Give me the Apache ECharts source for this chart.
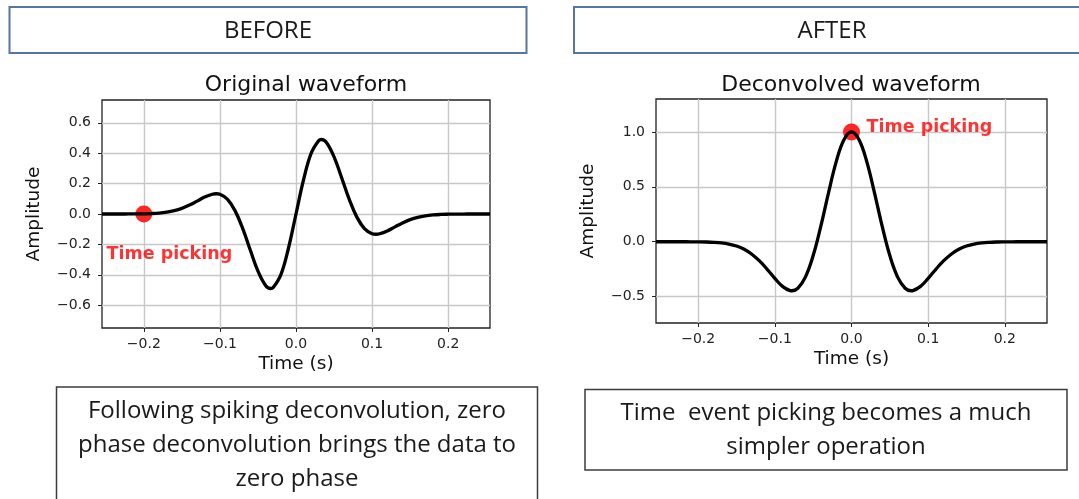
<!DOCTYPE html>
<html>
<head>
<meta charset="utf-8">
<script src="https://cdn.jsdelivr.net/npm/echarts@6/dist/echarts.min.js"></script>
<style>
html,body{margin:0;padding:0;background:#ffffff;}
#chart{width:1079px;height:499px;}
</style>
</head>
<body>
<div id="chart"></div>
<script>
// ---------- texts ----------
const headerLabels = ['BEFORE', 'AFTER'];
const panelTitles = ['Original waveform', 'Deconvolved waveform'];
const captionBefore = ['Following spiking deconvolution, zero', 'phase deconvolution brings the data to', 'zero phase'];
const captionAfter = ['Time  event picking becomes a much', 'simpler operation'];
const xAxisName = 'Time (s)';
const yAxisName = 'Amplitude';
const pickLabel = 'Time picking';

// ---------- tick values ----------
const xTicks = [-0.2, -0.1, 0, 0.1, 0.2];
const yTicksBefore = [-0.6, -0.4, -0.2, 0, 0.2, 0.4, 0.6];
const yTicksAfter = [-0.5, 0, 0.5, 1.0];

// ---------- waveform before (original) ----------
const timesBefore = [-0.255,-0.25,-0.24,-0.23,-0.22,-0.21,-0.2,-0.19,-0.18,-0.17,-0.16,-0.15,-0.14,-0.13,-0.12,-0.11,-0.105,-0.1,-0.09,-0.08,-0.07,-0.06,-0.05,-0.04,-0.0334,-0.03,-0.02,-0.01,0,0.01,0.02,0.03,0.0334,0.04,0.05,0.06,0.07,0.08,0.09,0.1,0.105,0.11,0.12,0.13,0.14,0.15,0.16,0.17,0.18,0.19,0.2,0.21,0.22,0.23,0.24,0.25,0.255];
const amplitudeBefore = [0,0,0,0,0.0002,0.0006,0.0014,0.003,0.0062,0.0121,0.022,0.0372,0.0585,0.0846,0.1113,0.1302,0.1331,0.1294,0.0959,0.0206,-0.0959,-0.2382,-0.3759,-0.4699,-0.49,-0.4843,-0.4005,-0.227,0,0.227,0.4005,0.4843,0.49,0.4699,0.3759,0.2382,0.0959,-0.0206,-0.0959,-0.1294,-0.1331,-0.1302,-0.1113,-0.0846,-0.0585,-0.0372,-0.022,-0.0121,-0.0062,-0.003,-0.0014,-0.0006,-0.0002,0,0,0,0];

// ---------- waveform after (deconvolved) ----------
const timesAfter = [-0.255,-0.25,-0.24,-0.23,-0.22,-0.21,-0.2,-0.19,-0.18,-0.17,-0.16,-0.15,-0.14,-0.13,-0.12,-0.11,-0.1,-0.09,-0.08,-0.078,-0.07,-0.06,-0.05,-0.04,-0.03,-0.02,-0.01,0,0.01,0.02,0.03,0.04,0.05,0.06,0.07,0.078,0.08,0.09,0.1,0.11,0.12,0.13,0.14,0.15,0.16,0.17,0.18,0.19,0.2,0.21,0.22,0.23,0.24,0.25,0.255];
const amplitudeAfter = [0,0,0,0,0,-0.0004,-0.001,-0.0023,-0.0051,-0.0106,-0.021,-0.0392,-0.0688,-0.1134,-0.1748,-0.251,-0.3337,-0.4061,-0.4448,-0.4463,-0.4233,-0.3195,-0.1261,0.1418,0.4451,0.7272,0.9275,1,0.9275,0.7272,0.4451,0.1418,-0.1261,-0.3195,-0.4233,-0.4463,-0.4448,-0.4061,-0.3337,-0.251,-0.1748,-0.1134,-0.0688,-0.0392,-0.021,-0.0106,-0.0051,-0.0023,-0.001,-0.0004,0,0,0,0,0];

// ---------- picks & annotation anchors ----------
const pickBefore = [-0.2, 0];
const pickAfter = [0, 1.0];
const labelAnchorBefore = [-0.249, -0.264];
const labelAnchorAfter = [0.0196, 1.042];

// ---------- build ----------
const zip = (xs, ys) => xs.map((x, i) => [x, ys[i]]);
const fmt = v => (v < 0 ? '\u2212' : '') + Math.abs(v).toFixed(1);
const mpl = 'DejaVu Sans';
const ui = '"Open Sans", "Noto Sans", sans-serif';

function xAxisCfg(gridIndex) {
  return {
    type: 'value', gridIndex, min: -0.255, max: 0.255,
    name: xAxisName, nameLocation: 'middle', nameGap: 27,
    nameTextStyle: { fontFamily: mpl, fontSize: 18.5, color: '#111' },
    axisLine: { show: false, onZero: false },
    axisTick: { show: true, inside: false, length: 4, customValues: xTicks, lineStyle: { color: '#222', width: 1 } },
    axisLabel: { customValues: xTicks, formatter: fmt, fontFamily: mpl, fontSize: 14, color: '#222', margin: 9 },
    splitLine: { show: true, lineStyle: { color: '#c8c8c8', width: 1.4 } }
  };
}
function yAxisCfg(gridIndex, min, max, ticks) {
  return {
    type: 'value', gridIndex, min, max,
    name: yAxisName, nameLocation: 'middle', nameGap: 58, nameRotate: 90,
    nameTextStyle: { fontFamily: mpl, fontSize: 18.5, color: '#111' },
    axisLine: { show: false, onZero: false },
    axisTick: { show: true, inside: false, length: 4, customValues: ticks, lineStyle: { color: '#222', width: 1 } },
    axisLabel: { customValues: ticks, formatter: fmt, fontFamily: mpl, fontSize: 14, color: '#222', margin: 11 },
    splitLine: { show: true, lineStyle: { color: '#c8c8c8', width: 1.4 } }
  };
}

const graphics = [];
// header boxes
const headerBoxes = [[9.5, 7, 517, 46], [574, 7, 530, 46]];
const headerCenters = [[268, 31], [832, 31]];
headerBoxes.forEach((b, i) => {
  graphics.push({ type: 'rect', shape: { x: b[0], y: b[1], width: b[2], height: b[3] },
    style: { fill: '#ffffff', stroke: '#5874a0', lineWidth: 2 }, z: 1 });
  graphics.push({ type: 'text', x: headerCenters[i][0], y: headerCenters[i][1],
    style: { text: headerLabels[i], fontFamily: ui, fontSize: 24, fill: '#1a1a1a', align: 'center', verticalAlign: 'middle' }, z: 2 });
});
// caption boxes
graphics.push({ type: 'rect', shape: { x: 56.5, y: 387, width: 481, height: 130 },
  style: { fill: '#ffffff', stroke: '#3c3c3c', lineWidth: 1.5 }, z: 1 });
graphics.push({ type: 'rect', shape: { x: 585, y: 389.5, width: 482, height: 80.5 },
  style: { fill: '#ffffff', stroke: '#3c3c3c', lineWidth: 1.5 }, z: 1 });
captionBefore.forEach((t, i) => {
  graphics.push({ type: 'text', x: 297, y: 411 + i * 34,
    style: { text: t, fontFamily: ui, fontSize: 24, fill: '#1a1a1a', align: 'center', verticalAlign: 'middle' }, z: 2 });
});
captionAfter.forEach((t, i) => {
  graphics.push({ type: 'text', x: 826, y: 413 + i * 34,
    style: { text: t, fontFamily: ui, fontSize: 24, fill: '#1a1a1a', align: 'center', verticalAlign: 'middle' }, z: 2 });
});

const gridFrame = { show: true, borderColor: '#222', borderWidth: 1.3, backgroundColor: 'transparent' };

function pickSeries(xi, pt) {
  return { type: 'scatter', xAxisIndex: xi, yAxisIndex: xi, data: [pt], symbolSize: 17,
    itemStyle: { color: '#ff1a1a', opacity: 0.95 }, z: 2, silent: true };
}
function labelSeries(xi, pt) {
  return { type: 'scatter', xAxisIndex: xi, yAxisIndex: xi, data: [pt], symbolSize: 0,
    label: { show: true, position: 'right', distance: 0, formatter: pickLabel,
      fontFamily: mpl, fontWeight: 'bold', fontSize: 17.5, color: '#ff0000' }, z: 4, silent: true };
}
function waveSeries(xi, data) {
  return { type: 'line', xAxisIndex: xi, yAxisIndex: xi, data, smooth: 0.4, showSymbol: false, symbol: 'none',
    lineStyle: { color: '#000', width: 3.3 }, z: 3, silent: true };
}

const option = {
  backgroundColor: '#ffffff',
  animation: false,
  title: [
    { text: panelTitles[0], left: 306, top: 74, textAlign: 'center', padding: 0,
      textStyle: { fontFamily: mpl, fontSize: 22, fontWeight: 'normal', color: '#111' } },
    { text: panelTitles[1], left: 851, top: 74, textAlign: 'center', padding: 0,
      textStyle: { fontFamily: mpl, fontSize: 22, fontWeight: 'normal', color: '#111' } }
  ],
  grid: [
    Object.assign({ left: 102, top: 100, width: 388, height: 228 }, gridFrame),
    Object.assign({ left: 656, top: 99, width: 391, height: 224 }, gridFrame)
  ],
  xAxis: [xAxisCfg(0), xAxisCfg(1)],
  yAxis: [yAxisCfg(0, -0.75, 0.75, yTicksBefore), yAxisCfg(1, -0.74, 1.30, yTicksAfter)],
  graphic: graphics,
  series: [
    pickSeries(0, pickBefore),
    waveSeries(0, zip(timesBefore, amplitudeBefore)),
    labelSeries(0, labelAnchorBefore),
    pickSeries(1, pickAfter),
    waveSeries(1, zip(timesAfter, amplitudeAfter)),
    labelSeries(1, labelAnchorAfter)
  ]
};

const chart = echarts.init(document.getElementById('chart'), null, { renderer: 'canvas' });
chart.setOption(option);
</script>
</body>
</html>
